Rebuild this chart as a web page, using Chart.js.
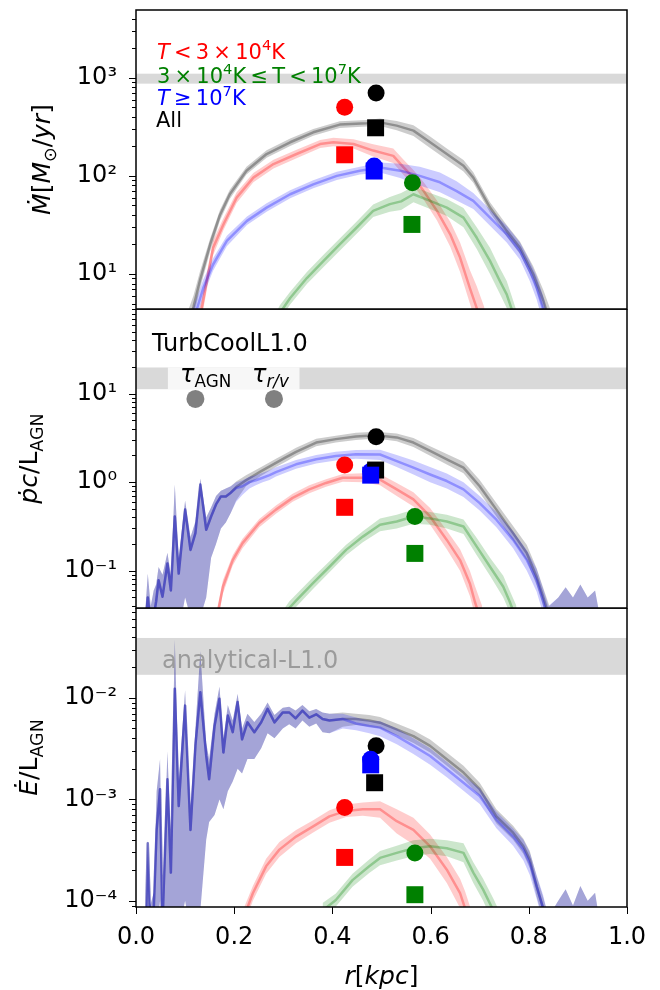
<!DOCTYPE html>
<html>
<head>
<meta charset="utf-8">
<script src="https://cdn.jsdelivr.net/npm/chart.js@4.4.0/dist/chart.umd.min.js"></script>
<style>
  html, body { margin: 0; padding: 0; background: #fff; }
  #wrap { position: relative; width: 660px; height: 990px; }
  canvas { position: absolute; left: 0; }
</style>
</head>
<body>
<div id="wrap">
  <canvas id="mdot" width="660" height="310" style="top:0px"></canvas>
  <canvas id="pdot" width="660" height="300" style="top:309px"></canvas>
  <canvas id="edot" width="660" height="382" style="top:608px"></canvas>
</div>
<script>
const FONT = "'DejaVu Sans', sans-serif";

// y ranges of the three panels
const mdotRange = [4.4, 4900];
const pdotRange = [0.038, 90];
const edotRange = [8.7e-5, 0.077];

// grey horizontal bands
const mdotBand = [870, 1100];
const pdotBand = [11.2, 19.7];
const edotBand = [0.0169, 0.039];

// rows: [r (kpc), median, lower, upper]
const mdotAll = [
  [0.100, 2.5, 1.8, 3.5], [0.117, 4.6, 3.6, 6.0], [0.130, 8.5, 7.0, 10.5], [0.151, 20, 17, 23],
  [0.171, 40, 35, 45], [0.191, 65, 58, 72], [0.225, 113, 103, 124], [0.266, 167, 153, 182],
  [0.314, 220, 202, 240], [0.361, 278, 256, 300], [0.415, 333, 308, 360], [0.470, 343, 318, 372],
  [0.497, 351, 322, 385], [0.531, 325, 292, 362], [0.565, 289, 255, 328], [0.599, 220, 192, 252],
  [0.633, 167, 146, 190], [0.667, 127, 111, 145], [0.687, 96, 85, 109], [0.721, 47.5, 42, 54],
  [0.755, 27.5, 24, 31.5], [0.782, 18.5, 16, 21.5], [0.809, 10, 8.5, 12], [0.830, 5.3, 4.2, 6.8],
  [0.845, 3, 2.2, 4.2]
];
const mdotCold = [
  [0.120, 2, 1.5, 2.8], [0.134, 4.5, 3.6, 5.6], [0.157, 18.5, 15.5, 22], [0.178, 32, 28, 37],
  [0.205, 60, 53, 68], [0.239, 96, 86, 107], [0.280, 132, 119, 146], [0.327, 167, 151, 185],
  [0.375, 211, 192, 232], [0.402, 220, 200, 244], [0.443, 211, 190, 236], [0.483, 181, 158, 210],
  [0.524, 160, 135, 190], [0.545, 122, 102, 146], [0.565, 96, 80, 115], [0.586, 70, 57, 86],
  [0.613, 44, 35, 56], [0.640, 25.4, 19, 34], [0.660, 14.7, 10.5, 21], [0.680, 7.2, 5, 11],
  [0.694, 4.5, 3, 7.5], [0.710, 2.5, 1.6, 4.5]
];
const mdotHot = [
  [0.110, 2.5, 1.8, 3.6], [0.124, 4.4, 3.4, 5.8], [0.137, 7.2, 6.0, 8.8], [0.157, 12.5, 10.8, 14.5],
  [0.185, 21.7, 19.2, 24.5], [0.226, 34.8, 31.5, 38.5], [0.266, 47.5, 43, 52.5], [0.314, 65, 59, 71.5],
  [0.361, 82, 75, 90], [0.409, 100, 91, 110], [0.456, 113, 103, 124], [0.497, 122, 108, 137],
  [0.538, 113, 95, 133], [0.578, 100, 80, 124], [0.619, 86, 68, 108], [0.653, 70, 56, 88],
  [0.687, 55.6, 46, 67], [0.721, 37.6, 31, 45.5], [0.755, 25.4, 21, 31], [0.782, 17.1, 14, 21],
  [0.802, 10.7, 8.5, 13.5], [0.816, 7.2, 5.5, 9.5], [0.829, 4.4, 3.2, 6], [0.840, 2.5, 1.8, 3.5]
];
const mdotWarm = [
  [0.280, 3, 2.5, 3.6], [0.293, 4, 3.4, 4.8], [0.314, 5.7, 4.9, 6.6], [0.348, 9.1, 7.9, 10.5],
  [0.382, 13.6, 11.8, 15.7], [0.415, 20, 17.3, 23], [0.449, 29.6, 25.6, 34], [0.483, 44, 38, 51],
  [0.517, 51.5, 43, 61], [0.540, 55, 45, 67], [0.565, 65, 54, 78], [0.599, 55.6, 46, 67],
  [0.633, 47.5, 39, 58], [0.667, 37.6, 30, 47], [0.694, 23.4, 18, 30], [0.721, 13.6, 10, 18.5],
  [0.741, 8.5, 6.3, 11.5], [0.755, 6.2, 4.5, 8.5], [0.765, 4.4, 3.2, 6], [0.775, 3, 2.1, 4.2]
];

// inner noisy part shared by hot gas and all gas
const pdotInner = [
  [0.018, 0.02, 0.01, 0.03], [0.024, 0.05, 0.02, 0.093], [0.030, 0.025, 0.012, 0.04],
  [0.036, 0.03, 0.015, 0.06], [0.041, 0.045, 0.02, 0.07], [0.046, 0.078, 0.03, 0.11],
  [0.054, 0.051, 0.02, 0.09], [0.064, 0.121, 0.03, 0.16], [0.071, 0.06, 0.02, 0.09],
  [0.079, 0.41, 0.03, 0.95], [0.087, 0.093, 0.02, 0.14], [0.100, 0.49, 0.05, 0.62],
  [0.111, 0.172, 0.03, 0.24], [0.121, 0.266, 0.03, 0.36], [0.131, 0.94, 0.03, 1.1],
  [0.143, 0.29, 0.05, 0.4], [0.153, 0.41, 0.14, 0.52], [0.163, 0.56, 0.2, 0.7],
  [0.173, 0.69, 0.3, 0.8], [0.183, 0.69, 0.35, 0.85], [0.193, 0.76, 0.45, 0.9]
];
const pdotHotOuter = [
  [0.204, 0.86, 0.6, 1.0], [0.217, 0.9, 0.72, 1.05], [0.231, 1.0, 0.85, 1.15], [0.244, 1.05, 0.92, 1.2],
  [0.258, 1.12, 1.0, 1.28], [0.272, 1.2, 1.06, 1.36], [0.285, 1.3, 1.16, 1.47], [0.326, 1.59, 1.42, 1.78],
  [0.367, 1.81, 1.62, 2.02], [0.407, 1.97, 1.76, 2.2], [0.448, 2.06, 1.84, 2.3], [0.497, 2.05, 1.78, 2.32],
  [0.531, 1.73, 1.48, 2.02], [0.565, 1.46, 1.22, 1.75], [0.599, 1.22, 1.0, 1.48], [0.633, 1.03, 0.85, 1.25],
  [0.667, 0.83, 0.68, 1.0], [0.700, 0.58, 0.48, 0.7], [0.734, 0.377, 0.31, 0.46], [0.768, 0.223, 0.18, 0.28],
  [0.796, 0.132, 0.1, 0.17], [0.816, 0.078, 0.058, 0.105], [0.829, 0.046, 0.033, 0.063],
  [0.840, 0.028, 0.02, 0.04]
];
const pdotAllOuter = [
  [0.204, 0.88, 0.62, 1.02], [0.224, 1.05, 0.9, 1.2], [0.255, 1.33, 1.18, 1.48], [0.285, 1.65, 1.48, 1.84],
  [0.305, 1.9, 1.7, 2.1], [0.326, 2.2, 1.98, 2.44], [0.367, 2.8, 2.55, 3.08], [0.407, 3.06, 2.8, 3.35],
  [0.448, 3.28, 3.0, 3.6], [0.489, 3.39, 3.1, 3.7], [0.531, 3.2, 2.9, 3.55], [0.565, 2.8, 2.5, 3.15],
  [0.599, 2.25, 1.98, 2.55], [0.633, 1.81, 1.58, 2.08], [0.667, 1.46, 1.26, 1.7], [0.700, 0.9, 0.76, 1.06],
  [0.734, 0.49, 0.41, 0.58], [0.768, 0.266, 0.22, 0.32], [0.796, 0.158, 0.13, 0.195],
  [0.816, 0.085, 0.068, 0.107], [0.829, 0.051, 0.04, 0.065], [0.842, 0.03, 0.022, 0.04]
];
// outer blips shared by hot gas and all gas
const pdotTail = [
  [0.860, 0.03, 0.02, 0.05], [0.875, 0.035, 0.02, 0.065], [0.890, 0.03, 0.02, 0.05],
  [0.905, 0.035, 0.02, 0.07], [0.920, 0.03, 0.02, 0.05], [0.935, 0.03, 0.02, 0.06],
  [0.945, 0.02, 0.01, 0.03]
];
const pdotCold = [
  [0.165, 0.03, 0.024, 0.037], [0.177, 0.066, 0.055, 0.078], [0.197, 0.132, 0.115, 0.15],
  [0.217, 0.205, 0.18, 0.23], [0.251, 0.346, 0.31, 0.385], [0.285, 0.49, 0.44, 0.545],
  [0.319, 0.665, 0.6, 0.74], [0.353, 0.83, 0.75, 0.92], [0.387, 0.98, 0.89, 1.08],
  [0.421, 1.12, 1.01, 1.24], [0.462, 1.12, 1.0, 1.26], [0.497, 1.07, 0.92, 1.24],
  [0.531, 0.83, 0.7, 0.98], [0.565, 0.64, 0.53, 0.77], [0.599, 0.41, 0.33, 0.51],
  [0.633, 0.223, 0.175, 0.285], [0.660, 0.132, 0.1, 0.175], [0.680, 0.072, 0.052, 0.1],
  [0.690, 0.045, 0.032, 0.068], [0.705, 0.025, 0.017, 0.04]
];
const pdotWarm = [
  [0.300, 0.03, 0.025, 0.036], [0.312, 0.038, 0.032, 0.045], [0.326, 0.046, 0.039, 0.054],
  [0.360, 0.072, 0.062, 0.084], [0.394, 0.111, 0.096, 0.128], [0.428, 0.172, 0.15, 0.197],
  [0.462, 0.243, 0.21, 0.28], [0.497, 0.33, 0.28, 0.39], [0.531, 0.36, 0.3, 0.43],
  [0.565, 0.41, 0.34, 0.49], [0.599, 0.39, 0.33, 0.46], [0.633, 0.36, 0.3, 0.43],
  [0.667, 0.316, 0.26, 0.38], [0.694, 0.187, 0.15, 0.235], [0.721, 0.111, 0.088, 0.14],
  [0.748, 0.066, 0.05, 0.088], [0.761, 0.045, 0.034, 0.06], [0.775, 0.028, 0.02, 0.04]
];

const edotInner = [
  [0.020, 5e-5, 3e-5, 8e-5], [0.024, 3.7e-4, 5e-5, 4e-4], [0.029, 6e-5, 3e-5, 9e-5],
  [0.036, 8e-5, 4e-5, 1.2e-4], [0.042, 5e-4, 5e-5, 1.2e-3], [0.049, 1.26e-3, 1e-4, 2.5e-3],
  [0.054, 6e-5, 3e-5, 1e-4], [0.064, 1.58e-3, 8e-5, 3e-3], [0.071, 1.9e-4, 5e-5, 4e-4],
  [0.079, 0.0123, 8e-5, 0.038], [0.087, 8.6e-4, 5e-5, 1.5e-3], [0.100, 8.4e-3, 1e-4, 0.012],
  [0.111, 5e-4, 5e-5, 8e-4], [0.121, 3.4e-3, 6e-5, 5e-3], [0.131, 0.0114, 8e-5, 0.029],
  [0.143, 2.7e-3, 4e-4, 3.6e-3], [0.149, 1.58e-3, 6e-4, 2.5e-3], [0.160, 5.3e-3, 7e-4, 7e-3],
  [0.170, 9.8e-3, 1e-3, 0.013], [0.178, 2.9e-3, 8e-4, 4e-3], [0.187, 6.7e-3, 1.2e-3, 8.5e-3],
  [0.197, 4.6e-3, 1.5e-3, 6e-3], [0.207, 9.1e-3, 2e-3, 0.011], [0.216, 3.9e-3, 1.8e-3, 5e-3],
  [0.227, 5.75e-3, 2.5e-3, 7e-3], [0.241, 4.6e-3, 2.5e-3, 5.8e-3], [0.255, 5.75e-3, 3.2e-3, 7e-3],
  [0.268, 7.8e-3, 4.5e-3, 9e-3], [0.282, 5.75e-3, 4e-3, 6.8e-3], [0.299, 7.2e-3, 5e-3, 8e-3],
  [0.312, 7.2e-3, 5.5e-3, 8.2e-3], [0.325, 6.3e-3, 5e-3, 7.5e-3], [0.339, 7.5e-3, 6e-3, 8.5e-3],
  [0.353, 6.4e-3, 5.2e-3, 7.4e-3], [0.367, 6.9e-3, 5.6e-3, 7.8e-3], [0.380, 6.2e-3, 4.6e-3, 7.2e-3],
  [0.394, 6.0e-3, 4.5e-3, 7.0e-3]
];
const edotHotOuter = [
  [0.421, 6.2e-3, 5e-3, 7e-3], [0.448, 5.6e-3, 4.8e-3, 6.4e-3], [0.475, 5.3e-3, 4.5e-3, 6e-3],
  [0.497, 5.1e-3, 4.2e-3, 5.9e-3], [0.531, 4.2e-3, 3.5e-3, 5e-3], [0.565, 3.37e-3, 2.8e-3, 4e-3],
  [0.599, 2.68e-3, 2.2e-3, 3.2e-3], [0.633, 1.98e-3, 1.65e-3, 2.35e-3], [0.667, 1.46e-3, 1.22e-3, 1.72e-3],
  [0.700, 1.08e-3, 0.9e-3, 1.28e-3], [0.734, 6.3e-4, 5.2e-4, 7.6e-4], [0.768, 4.3e-4, 3.5e-4, 5.2e-4],
  [0.789, 3.2e-4, 2.5e-4, 4e-4], [0.802, 2.35e-4, 1.8e-4, 3e-4], [0.816, 1.39e-4, 1.05e-4, 1.8e-4],
  [0.829, 8.5e-5, 6e-5, 1.15e-4], [0.840, 5e-5, 3.5e-5, 7e-5]
];
const edotAllOuter = [
  [0.421, 6.2e-3, 5.2e-3, 7.2e-3], [0.448, 6.2e-3, 5.4e-3, 7e-3], [0.475, 6.0e-3, 5.2e-3, 6.8e-3],
  [0.497, 5.7e-3, 5.0e-3, 6.5e-3], [0.531, 4.9e-3, 4.3e-3, 5.6e-3], [0.565, 4.2e-3, 3.6e-3, 4.8e-3],
  [0.599, 3.37e-3, 2.9e-3, 3.9e-3], [0.633, 2.49e-3, 2.15e-3, 2.9e-3], [0.667, 1.84e-3, 1.58e-3, 2.15e-3],
  [0.700, 1.26e-3, 1.08e-3, 1.46e-3], [0.734, 6.8e-4, 5.8e-4, 8e-4], [0.768, 4.7e-4, 4e-4, 5.5e-4],
  [0.789, 3.45e-4, 2.9e-4, 4.1e-4], [0.802, 2.55e-4, 2.1e-4, 3.1e-4], [0.816, 1.39e-4, 1.1e-4, 1.75e-4],
  [0.829, 8.5e-5, 6.5e-5, 1.1e-4], [0.840, 5e-5, 3.5e-5, 7e-5]
];
const edotTail = [
  [0.860, 6e-5, 4e-5, 1e-4], [0.875, 7e-5, 4e-5, 1.3e-4], [0.890, 5e-5, 3e-5, 9e-5],
  [0.905, 7e-5, 4e-5, 1.4e-4], [0.920, 5e-5, 3e-5, 1e-4], [0.935, 6e-5, 4e-5, 1.2e-4],
  [0.945, 4e-5, 2e-5, 6e-5]
];
const edotCold = [
  [0.215, 6e-5, 5e-5, 7.5e-5], [0.238, 1.19e-4, 1e-4, 1.4e-4], [0.265, 2.19e-4, 1.85e-4, 2.6e-4],
  [0.292, 3.2e-4, 2.7e-4, 3.8e-4], [0.326, 4.3e-4, 3.7e-4, 5e-4], [0.360, 5.4e-4, 4.7e-4, 6.2e-4],
  [0.394, 6.8e-4, 5.9e-4, 7.8e-4], [0.428, 7.7e-4, 6.7e-4, 8.9e-4], [0.462, 8.0e-4, 6.9e-4, 9.3e-4],
  [0.497, 8.0e-4, 6.6e-4, 9.6e-4], [0.531, 6.1e-4, 4.6e-4, 8e-4], [0.565, 5.0e-4, 3.6e-4, 6.6e-4],
  [0.599, 3.45e-4, 2.6e-4, 4.5e-4], [0.633, 2.03e-4, 1.5e-4, 2.7e-4], [0.660, 1.19e-4, 8.5e-5, 1.65e-4],
  [0.670, 8.5e-5, 6e-5, 1.25e-4], [0.685, 5e-5, 3.5e-5, 7.5e-5]
];
const edotWarm = [
  [0.380, 8e-5, 6.8e-5, 9.5e-5], [0.407, 1.02e-4, 8.8e-5, 1.18e-4], [0.441, 1.6e-4, 1.38e-4, 1.85e-4],
  [0.475, 2.19e-4, 1.88e-4, 2.55e-4], [0.497, 2.65e-4, 2.25e-4, 3.1e-4], [0.531, 2.97e-4, 2.5e-4, 3.5e-4],
  [0.565, 3.3e-4, 2.75e-4, 3.95e-4], [0.599, 3.45e-4, 2.9e-4, 4.1e-4], [0.633, 3.3e-4, 2.75e-4, 3.95e-4],
  [0.667, 2.97e-4, 2.4e-4, 3.7e-4], [0.687, 1.9e-4, 1.5e-4, 2.4e-4], [0.707, 1.29e-4, 1e-4, 1.65e-4],
  [0.728, 8e-5, 6e-5, 1.05e-4], [0.745, 5e-5, 3.5e-5, 7e-5]
];

// analytical markers, in the order: all, cold, warm, hot
const markerColors = ['#000000', '#ff0000', '#008000', '#0000ff'];
const mdotCircleR = [0.489, 0.425, 0.563, 0.485];
const mdotCircleV = [698, 501, 85, 126];
const mdotSquareR = [0.488, 0.425, 0.562, 0.485];
const mdotSquareV = [309, 164, 32, 112];
const pdotCircleR = [0.489, 0.425, 0.568, 0.478];
const pdotCircleV = [3.25, 1.56, 0.41, 1.33];
const pdotSquareR = [0.488, 0.425, 0.568, 0.478];
const pdotSquareV = [1.37, 0.52, 0.157, 1.2];
const edotCircleR = [0.489, 0.425, 0.568, 0.478];
const edotCircleV = [3.37e-3, 8.3e-4, 2.96e-4, 2.49e-3];
const edotSquareR = [0.486, 0.425, 0.568, 0.478];
const edotSquareV = [1.46e-3, 2.68e-4, 1.15e-4, 2.19e-3];

// timescale dots in the middle panel
const tauDotR = [0.121, 0.281];
const tauDotV = [8.7, 8.7];
const tauBoxR = [0.065, 0.333];

const GREY = '0,0,0', RED = '255,0,0', GREEN = '0,128,0', BLUE = '0,0,255';

const SUP = { '-': '\u207b', '0': '\u2070', '1': '\u00b9', '2': '\u00b2', '3': '\u00b3', '4': '\u2074',
  '5': '\u2075', '6': '\u2076', '7': '\u2077', '8': '\u2078', '9': '\u2079' };

function powLabel(v) {
  const e = Math.log10(v), n = Math.round(e);
  if (Math.abs(e - n) > 1e-6) return '';
  return '10' + String(n).split('').map(c => SUP[c]).join('');
}

// 1..9 x 10^n ticks, like matplotlib's log locator
function logTicks(scale) {
  const ticks = [];
  const lo = Math.floor(Math.log10(scale.min)), hi = Math.ceil(Math.log10(scale.max));
  for (let e = lo; e <= hi; e++) {
    for (let k = 1; k <= 9; k++) {
      const v = k * Math.pow(10, e);
      if (v >= scale.min * 0.9999 && v <= scale.max * 1.0001) ticks.push({ value: v });
    }
  }
  scale.ticks = ticks;
}

// draws a list of text pieces left to right (italic / sub / superscript)
function rich(ctx, parts, x, y, size, color, measureOnly) {
  let cx = x;
  ctx.textAlign = 'left';
  ctx.textBaseline = 'alphabetic';
  for (const p of parts) {
    const s = (p.sub || p.sup) ? size * 0.7 : size;
    ctx.font = (p.it ? 'italic ' : '') + s + 'px ' + FONT;
    const dy = p.sub ? size * 0.22 : (p.sup ? -size * 0.42 : 0);
    if (!measureOnly) {
      ctx.fillStyle = p.c || color;
      ctx.fillText(p.t, cx, y + dy);
    }
    cx += ctx.measureText(p.t).width;
  }
  return cx - x;
}

const T = '\u2009';

function decor(p) {
  return {
    id: 'decor',
    beforeDatasetsDraw(chart) {
      const { ctx, chartArea: a, scales: { x, y } } = chart;
      const top = y.getPixelForValue(p.band[1]), bot = y.getPixelForValue(p.band[0]);
      ctx.save();
      ctx.fillStyle = 'rgba(0,0,0,0.15)';
      ctx.fillRect(a.left, top, a.right - a.left, bot - top);
      if (p.box) {
        const x0 = x.getPixelForValue(p.box[0]), x1 = x.getPixelForValue(p.box[1]);
        ctx.fillStyle = 'rgba(255,255,255,0.78)';
        ctx.fillRect(x0, top, x1 - x0, bot - top);
      }
      ctx.restore();
    },
    afterDraw(chart) {
      const { ctx, chartArea: a, scales: { x, y } } = chart;
      ctx.save();
      ctx.strokeStyle = '#000';
      ctx.lineWidth = 1;
      y.ticks.forEach(t => {
        const py = Math.round(y.getPixelForValue(t.value)) + 0.5;
        const len = powLabel(t.value) ? 7 : 4;
        ctx.beginPath(); ctx.moveTo(a.left - len, py); ctx.lineTo(a.left, py); ctx.stroke();
      });
      if (p.showX) {
        x.ticks.forEach(t => {
          const px = Math.round(x.getPixelForValue(t.value)) + 0.5;
          ctx.beginPath(); ctx.moveTo(px, a.bottom); ctx.lineTo(px, a.bottom + 7); ctx.stroke();
        });
      }
      ctx.lineWidth = 1.5;
      ctx.strokeRect(a.left, a.top, a.right - a.left, a.bottom - a.top);

      // y axis title, rotated
      ctx.save();
      ctx.translate(p.titleX, (a.top + a.bottom) / 2);
      ctx.rotate(-Math.PI / 2);
      const w = rich(ctx, p.yTitle, 0, 0, 25, '#000', true);
      rich(ctx, p.yTitle, -w / 2, 0, 25, '#000');
      ctx.restore();

      p.notes.forEach(n => rich(ctx, n.parts, a.left + n.dx, a.top + n.dy, n.size, n.color || '#000'));

      if (p.xTitle) {
        const w2 = rich(ctx, p.xTitle, 0, 0, 25, '#000', true);
        rich(ctx, p.xTitle, (a.left + a.right) / 2 - w2 / 2, a.bottom + 77, 25, '#000');
      }
      ctx.restore();
    }
  };
}

function buildPanel(id, p) {
  const datasets = [];
  p.curves.forEach(([rows, rgb]) => {
    const pts = k => rows.map(row => ({ x: row[0], y: row[k] }));
    datasets.push(
      { data: pts(3), fill: '+1', backgroundColor: `rgba(${rgb},0.2)`, borderColor: 'rgba(0,0,0,0)', borderWidth: 0, pointRadius: 0 },
      { data: pts(2), fill: false, borderColor: 'rgba(0,0,0,0)', borderWidth: 0, pointRadius: 0 },
      { data: pts(1), fill: false, borderColor: `rgba(${rgb},0.3)`, borderWidth: 2.5, pointRadius: 0,
        borderJoinStyle: 'round', borderCapStyle: 'round' }
    );
  });
  p.markers.forEach(([rs, vs, colors, style, radius]) => {
    rs.forEach((r, i) => datasets.push({
      data: [{ x: r, y: vs[i] }], showLine: false, pointStyle: style, pointRadius: radius,
      pointBackgroundColor: colors[i], pointBorderWidth: 0
    }));
  });
  datasets.forEach((d, i) => { d.order = datasets.length - i; d.tension = 0; });

  return new Chart(document.getElementById(id), {
    type: 'line',
    data: { datasets },
    options: {
      responsive: false,
      animation: false,
      events: [],
      layout: { autoPadding: false, padding: { top: p.padTop, bottom: p.padBottom, left: 0, right: 33 } },
      plugins: { legend: { display: false }, tooltip: { enabled: false } },
      scales: {
        x: {
          type: 'linear', min: 0, max: 1, display: p.showX,
          grid: { display: false, drawTicks: false },
          border: { display: false },
          ticks: { stepSize: 0.2, padding: 16, maxRotation: 0, autoSkip: false, color: '#000',
                   font: { family: FONT, size: 24 }, callback: v => v.toFixed(1) },
          afterFit: s => { if (p.showX) s.height = 83; s.paddingLeft = 0; s.paddingRight = 0; }
        },
        y: {
          type: 'logarithmic', min: p.range[0], max: p.range[1],
          grid: { display: false, drawTicks: false },
          border: { display: false },
          ticks: { padding: 19, autoSkip: false, color: '#000',
                   font: { family: FONT, size: 24 }, callback: v => powLabel(v) },
          afterBuildTicks: logTicks,
          afterFit: s => { s.width = 136; s.paddingTop = 0; s.paddingBottom = 0; }
        }
      }
    },
    plugins: [decor(p)]
  });
}

buildPanel('mdot', {
  range: mdotRange, band: mdotBand, padTop: 10, padBottom: 1, showX: false, titleX: 50,
  curves: [[mdotAll, GREY], [mdotCold, RED], [mdotWarm, GREEN], [mdotHot, BLUE]],
  markers: [[mdotCircleR, mdotCircleV, markerColors, 'circle', 8.5],
            [mdotSquareR, mdotSquareV, markerColors, 'rect', 12]],
  yTitle: [{ t: '\u1e40', it: true }, { t: '[' }, { t: 'M', it: true }, { t: '\u2299', sub: true },
           { t: '/' }, { t: 'yr', it: true }, { t: ']' }],
  notes: [
    { dx: 21, dy: 49, size: 21, color: '#ff0000',
      parts: [{ t: 'T', it: true }, { t: T + '<' + T + '3' + T + '\u00d7' + T + '10' }, { t: '4', sup: true }, { t: 'K' }] },
    { dx: 21, dy: 72.5, size: 21, color: '#008000',
      parts: [{ t: '3' + T + '\u00d7' + T + '10' }, { t: '4', sup: true }, { t: 'K' + T + '\u2264' + T + 'T' + T + '<' + T + '10' },
              { t: '7', sup: true }, { t: 'K' }] },
    { dx: 21, dy: 95, size: 21, color: '#0000ff',
      parts: [{ t: 'T', it: true }, { t: T + '\u2265' + T + '10' }, { t: '7', sup: true }, { t: 'K' }] },
    { dx: 20, dy: 117, size: 21, color: '#000', parts: [{ t: 'All' }] }
  ]
});

buildPanel('pdot', {
  range: pdotRange, band: pdotBand, box: tauBoxR, padTop: 0, padBottom: 1, showX: false, titleX: 37,
  curves: [[pdotInner.concat(pdotAllOuter, pdotTail), GREY], [pdotCold, RED], [pdotWarm, GREEN],
           [pdotInner.concat(pdotHotOuter, pdotTail), BLUE]],
  markers: [[tauDotR, tauDotV, ['#808080', '#808080'], 'circle', 9],
            [pdotCircleR, pdotCircleV, markerColors, 'circle', 8.5],
            [pdotSquareR, pdotSquareV, markerColors, 'rect', 12]],
  yTitle: [{ t: '\u1e57c', it: true }, { t: '/' }, { t: 'L' }, { t: 'AGN', sub: true }],
  notes: [
    { dx: 16, dy: 42, size: 24, parts: [{ t: 'TurbCoolL1.0' }] },
    { dx: 44, dy: 73, size: 24, parts: [{ t: '\u03c4', it: true }, { t: 'AGN', sub: true }] },
    { dx: 116, dy: 73, size: 24, parts: [{ t: '\u03c4', it: true }, { t: 'r/v', sub: true, it: true }] }
  ]
});

buildPanel('edot', {
  range: edotRange, band: edotBand, padTop: 0, padBottom: 0, showX: true, titleX: 37,
  curves: [[edotInner.concat(edotAllOuter, edotTail), GREY], [edotCold, RED], [edotWarm, GREEN],
           [edotInner.concat(edotHotOuter, edotTail), BLUE]],
  markers: [[edotCircleR, edotCircleV, markerColors, 'circle', 8.5],
            [edotSquareR, edotSquareV, markerColors, 'rect', 12]],
  yTitle: [{ t: '\u0116', it: true }, { t: '/' }, { t: 'L' }, { t: 'AGN', sub: true }],
  xTitle: [{ t: 'r', it: true }, { t: '[' }, { t: 'kpc', it: true }, { t: ']' }],
  notes: [
    { dx: 26, dy: 60, size: 24, color: '#9b9b9b', parts: [{ t: 'analytical-L1.0' }] }
  ]
});
</script>
</body>
</html>
